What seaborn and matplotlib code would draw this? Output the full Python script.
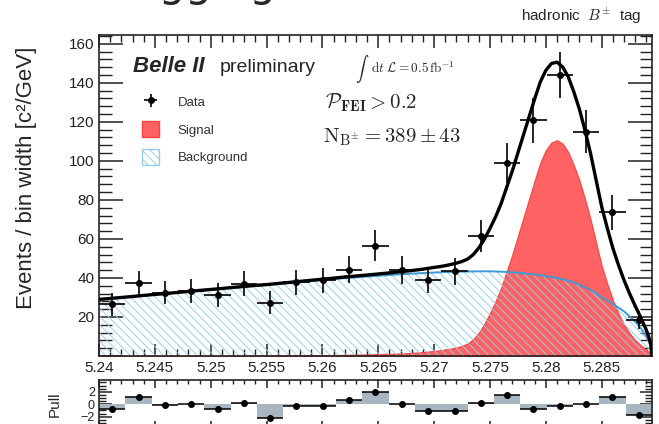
import numpy as np
import pandas as pd
import matplotlib
matplotlib.use("Agg")
import matplotlib.pyplot as plt
import seaborn as sns
from matplotlib.patches import Patch
from matplotlib.ticker import MultipleLocator, FuncFormatter

# ---------------- data ----------------
mbc_range = (5.24, 5.2895)
n_bins = 21

data_counts = [26.5, 37.2, 32.5, 33.3, 31.3, 37.0, 27.4, 37.8, 38.7, 44.3, 56.6,
               44.1, 39.1, 43.4, 61.3, 98.8, 120.7, 144.1, 115.0, 73.6, 18.5]
data_errors = [6.0, 6.4, 6.1, 6.2, 6.0, 6.4, 5.7, 6.4, 6.5, 7.0, 7.8,
               7.0, 6.6, 7.0, 8.2, 10.3, 11.3, 11.8, 11.0, 8.9, 4.8]
pulls = [-0.7, 1.2, -0.05, 0.0, -0.7, 0.2, -2.15, -0.25, -0.25, 0.7, 2.0,
         0.1, -1.1, -1.1, 0.2, 1.55, -0.7, -0.25, 0.0, 1.2, -1.8]

curve_mbc = [5.240, 5.241, 5.242, 5.243, 5.244, 5.245, 5.246, 5.247, 5.248, 5.249,
             5.250, 5.251, 5.252, 5.253, 5.254, 5.255, 5.256, 5.257, 5.258, 5.259,
             5.260, 5.261, 5.262, 5.263, 5.264, 5.265, 5.266, 5.267, 5.268, 5.269,
             5.270, 5.2705, 5.271, 5.2715, 5.272, 5.2725, 5.273, 5.2735, 5.274, 5.2745,
             5.275, 5.2755, 5.276, 5.2765, 5.277, 5.2775, 5.278, 5.2785, 5.279, 5.2795,
             5.280, 5.2805, 5.281, 5.2815, 5.282, 5.2825, 5.283, 5.2835, 5.284, 5.2845,
             5.285, 5.2855, 5.286, 5.2865, 5.287, 5.2875, 5.288, 5.2885, 5.289,
             5.2892, 5.2894, 5.2895]
bkg_curve = [29.0, 29.5, 30.0, 30.5, 31.0, 31.5, 32.0, 32.5, 33.0, 33.5,
             34.0, 34.5, 35.0, 35.5, 36.0, 36.4, 36.9, 37.4, 37.9, 38.4,
             38.9, 39.4, 39.9, 40.3, 40.7, 41.1, 41.5, 41.9, 42.2, 42.5,
             42.8, 42.9, 43.0, 43.1, 43.2, 43.25, 43.3, 43.35, 43.4, 43.4,
             43.4, 43.3, 43.2, 43.05, 42.9, 42.65, 42.4, 42.1, 41.8, 41.4,
             40.9, 40.5, 40.0, 39.35, 38.6, 37.6, 36.5, 35.2, 33.8, 32.1,
             30.2, 28.5, 26.6, 24.8, 22.8, 20.3, 17.5, 14.2, 10.0,
             7.7, 4.5, 0.0]
sig_curve = [0.0, 0.0, 0.0, 0.0, 0.05, 0.05, 0.05, 0.05, 0.1, 0.1,
             0.1, 0.1, 0.15, 0.15, 0.2, 0.2, 0.25, 0.3, 0.35, 0.4,
             0.45, 0.5, 0.6, 0.7, 0.8, 0.95, 1.1, 1.3, 1.6, 2.0,
             2.6, 2.9, 3.3, 3.8, 4.4, 5.2, 6.4, 8.6, 12.0, 16.5,
             22.0, 28.0, 35.0, 43.5, 52.0, 61.5, 71.0, 80.5, 90.0, 99.0,
             105.5, 109.4, 110.6, 108.8, 104.5, 97.8, 90.0, 80.5, 70.0, 58.0,
             46.2, 37.0, 28.6, 21.8, 16.0, 11.6, 8.1, 5.5, 3.2,
             2.3, 1.2, 0.0]

# ---------------- style ----------------
sns.set_theme(style="ticks")
plt.rcParams["font.family"] = ["Liberation Sans", "DejaVu Sans"]
plt.rcParams["mathtext.fontset"] = "cm"
plt.rcParams["hatch.linewidth"] = 0.65
plt.rcParams["axes.edgecolor"] = "#222222"
plt.rcParams["xtick.color"] = "#222222"
plt.rcParams["ytick.color"] = "#222222"

W, H = 659, 424
fig = plt.figure(figsize=(W / 100, H / 100), dpi=100)
ax = fig.add_axes([99 / W, 1 - 356 / H, 553 / W, 321 / H])
ax2 = fig.add_axes([99 / W, 1 - 428.5 / H, 553 / W, 48.5 / H])

edges = np.linspace(mbc_range[0], mbc_range[1], n_bins + 1)
centers = 0.5 * (edges[:-1] + edges[1:])
binw = edges[1] - edges[0]

curves = pd.DataFrame({"mbc": curve_mbc, "bkg": bkg_curve, "sig": sig_curve})
curves["total"] = curves["bkg"] + curves["sig"]

sig_color = "#ff6262"
hatch_color = "#93cdea"

ax.fill_between(curves["mbc"], 0, curves["sig"], facecolor=sig_color,
                edgecolor="#ff4040", lw=0.8, zorder=1)
ax.fill_between(curves["mbc"], 0, curves["bkg"], facecolor="none",
                edgecolor=hatch_color, hatch="\\\\\\\\", lw=0, zorder=2)
sns.lineplot(data=curves, x="mbc", y="bkg", ax=ax, color="#3c9ad4", lw=1.4,
             zorder=3, legend=False)
sns.lineplot(data=curves, x="mbc", y="total", ax=ax, color="black", lw=2.4,
             zorder=4, legend=False)
h_data = ax.errorbar(centers, data_counts, xerr=binw / 2, yerr=data_errors,
                     fmt="o", color="black", ms=4, elinewidth=1.2, capsize=0,
                     zorder=5, label="Data")

ax.set_xlim(*mbc_range)
ax.set_ylim(0, 164.5)
ax.xaxis.set_major_locator(MultipleLocator(0.005))
ax.xaxis.set_minor_locator(MultipleLocator(0.001))
ax.yaxis.set_major_locator(MultipleLocator(20))
ax.yaxis.set_minor_locator(MultipleLocator(4))
ax.xaxis.set_major_formatter(FuncFormatter(lambda v, p: f"{v:g}"))
ax.yaxis.set_major_formatter(FuncFormatter(lambda v, p: "" if abs(v) < 1e-9 else f"{v:g}"))
ax.tick_params(which="both", direction="in", top=True, right=True, labelsize=11, pad=3.5)
ax.tick_params(axis="y", which="major", length=17, width=1.1)
ax.tick_params(axis="y", which="minor", length=9, width=1.0)
ax.tick_params(axis="x", which="major", length=9, width=1.1)
ax.tick_params(axis="x", which="minor", length=5, width=1.0)
for s in ax.spines.values():
    s.set_linewidth(1.2)
ax.set_xlabel("")
ax.set_ylabel("Events / bin width [c²/GeV]", fontsize=16)
ax.yaxis.set_label_coords(-0.112, 0.555)

# legend
p_sig = Patch(facecolor=sig_color, edgecolor="#ff4040", lw=1.0)
p_bkg = Patch(facecolor="white", edgecolor=hatch_color, hatch="\\\\\\\\", lw=1.0)
ax.legend(handles=[h_data, p_sig, p_bkg], labels=["Data", "Signal", "Background"],
          loc="upper left", bbox_to_anchor=(0.0778, 0.816), frameon=False,
          fontsize=9.5, handlelength=1.3, handleheight=1.5, handletextpad=1.4,
          labelspacing=0.85, borderpad=0, borderaxespad=0, labelcolor="#333333")

# texts
ax.text(0.0615, 0.885, "Belle II", transform=ax.transAxes, fontsize=16,
        fontweight="bold", fontstyle="italic", va="baseline", ha="left")
ax.text(0.2188, 0.885, "preliminary", transform=ax.transAxes, fontsize=14,
        va="baseline", ha="left")
ax.text(0.4625, 0.895, r"$\int$", transform=ax.transAxes, fontsize=9.5,
        va="center", ha="left")
ax.text(0.4919, 0.897, r"$\mathrm{d}t\ \mathcal{L} = 0.5\,\mathrm{fb}^{-1}$",
        transform=ax.transAxes, fontsize=9.5, va="center", ha="left")
ax.text(0.4087, 0.788, r"$\mathcal{P}_{\mathbf{FEI}} > 0.2$",
        transform=ax.transAxes, fontsize=15, va="center", ha="left")
ax.text(0.405, 0.682, r"$\mathrm{N}_{\mathrm{B}^{\pm}} = 389 \pm 43$",
        transform=ax.transAxes, fontsize=15, va="center", ha="left")
fig.text(641 / W, 1 - 20 / H, r"hadronic  $B^{\pm}$  tag", ha="right",
         va="baseline", fontsize=11)
fig.text(118 / W, 1 + 4 / H, "tagging", ha="left", va="baseline",
         fontsize=30, family=["DejaVu Sans"])

# pull panel
ax2.bar(centers, pulls, width=binw, color="#a8b6c2", edgecolor="none", zorder=1)
ax2.errorbar(centers, pulls, xerr=binw / 2, fmt="o", color="black", ms=4,
             elinewidth=1.1, capsize=0, zorder=3)
ax2.set_xlim(*mbc_range)
ax2.set_ylim(-3.9, 3.9)
ax2.xaxis.set_major_locator(MultipleLocator(0.005))
ax2.xaxis.set_minor_locator(MultipleLocator(0.001))
ax2.yaxis.set_major_locator(MultipleLocator(2))
ax2.yaxis.set_minor_locator(MultipleLocator(0.5))
ax2.tick_params(which="both", direction="in", top=True, right=True,
                labelbottom=False, labelsize=9, pad=3)
ax2.tick_params(axis="y", which="major", length=9, width=1.1)
ax2.tick_params(axis="y", which="minor", length=5, width=1.0)
ax2.tick_params(axis="x", which="major", length=6, width=1.1)
ax2.tick_params(axis="x", which="minor", length=3, width=1.0)
for s in ax2.spines.values():
    s.set_linewidth(1.2)
ax2.set_ylabel("Pull", fontsize=11)
ax2.yaxis.set_label_coords(-0.067, 0.5)

fig.savefig("out.png", dpi=100)
